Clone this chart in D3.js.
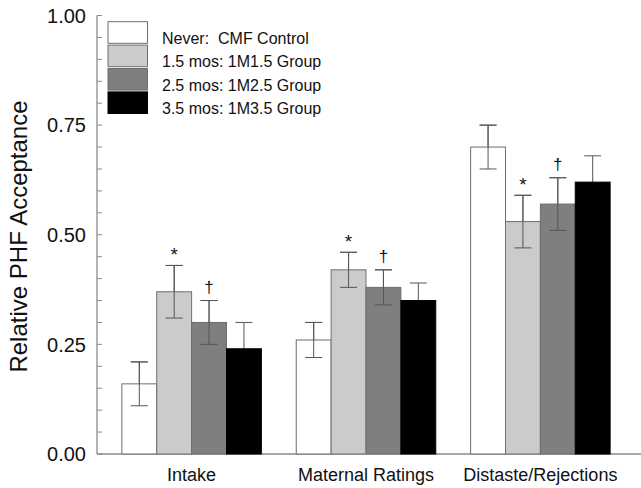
<!DOCTYPE html>
<html>
<head>
<meta charset="utf-8">
<script src="https://cdn.jsdelivr.net/npm/d3@7"></script>
<style>
body{margin:0;background:#fff;}
svg text{font-family:"Liberation Sans",Arial,sans-serif;white-space:pre;}
</style>
</head>
<body>
<div id="chart"></div>
<script>
var categories = ["Intake", "Maternal Ratings", "Distaste/Rejections"];
var groups = ["Never:  CMF Control", "1.5 mos: 1M1.5 Group", "2.5 mos: 1M2.5 Group", "3.5 mos: 1M3.5 Group"];
var fills = ["#ffffff", "#cbcbcb", "#7f7f7f", "#000000"];

// values per group, one entry per category
var means = [
	[0.16, 0.26, 0.70],
	[0.37, 0.42, 0.53],
	[0.30, 0.38, 0.57],
	[0.24, 0.35, 0.62]
];
var errs = [
	[0.05, 0.04, 0.05],
	[0.06, 0.04, 0.06],
	[0.05, 0.04, 0.06],
	[0.06, 0.04, 0.06]
];
// significance marks above bars: [group, category, symbol]
var marks = [
	[1, 0, "*"], [2, 0, "\u2020"],
	[1, 1, "*"], [2, 1, "\u2020"],
	[1, 2, "*"], [2, 2, "\u2020"]
];
var yTicks = [0, 0.25, 0.5, 0.75, 1.0];

var W = 641, H = 488;
var svg = d3.select("#chart").append("svg").attr("width", W).attr("height", H);

var axisCol = "#8a8a8a";

var y = d3.scaleLinear().domain([0, 1]).range([454, 15.5]);
var x0 = d3.scaleBand().domain(categories).range([87, 645]).paddingInner(0.2).paddingOuter(0.2);
var x1 = d3.scaleBand().domain(d3.range(groups.length)).range([0, x0.bandwidth()]);

//axes
var yAxisX = 97;
svg.append("line").attr("x1", yAxisX).attr("x2", yAxisX).attr("y1", y(1)).attr("y2", y(0))
	.attr("stroke", axisCol).attr("stroke-width", 1.3);
svg.append("line").attr("x1", yAxisX).attr("x2", W).attr("y1", y(0)).attr("y2", y(0))
	.attr("stroke", axisCol).attr("stroke-width", 1.3);

var minor = d3.range(0, 1.0001, 0.05);
svg.selectAll("line.ytick").data(minor).enter().append("line").classed("ytick", true)
	.attr("x1", yAxisX).attr("x2", yAxisX + 5)
	.attr("y1", function(d){ return y(d); }).attr("y2", function(d){ return y(d); })
	.attr("stroke", axisCol).attr("stroke-width", 1);

svg.selectAll("text.ylab").data(yTicks).enter().append("text").classed("ylab", true)
	.attr("x", 86).attr("y", function(d){ return y(d); }).attr("dy", "0.36em")
	.attr("text-anchor", "end").style("font-size", "20px").style("fill", "#111")
	.text(d3.format(".2f"));

svg.append("text").attr("transform", "translate(27,236.5) rotate(-90)")
	.attr("text-anchor", "middle").style("font-size", "24px").style("fill", "#111")
	.text("Relative PHF Acceptance");

svg.selectAll("text.xlab").data(categories).enter().append("text").classed("xlab", true)
	.attr("x", function(d){ return x0(d) + x0.bandwidth() / 2; }).attr("y", 481)
	.attr("text-anchor", "middle").style("font-size", "18px").style("fill", "#111")
	.text(function(d){ return d; });

//bars
var barData = [];
groups.forEach(function(g, gi){
	categories.forEach(function(c, ci){
		barData.push({g: gi, c: c, v: means[gi][ci], e: errs[gi][ci]});
	});
});

var bx = function(d){ return x0(d.c) + x1(d.g); };
var cx = function(d){ return bx(d) + x1.bandwidth() / 2; };

function errorBars(sel){
	var g = sel.enter().append("g");
	g.append("line").attr("x1", cx).attr("x2", cx)
		.attr("y1", function(d){ return y(d.v + d.e); }).attr("y2", function(d){ return y(d.v - d.e); })
		.attr("stroke", "#555").attr("stroke-width", 1);
	g.selectAll("line.cap").data(function(d){ return [d.v + d.e, d.v - d.e].map(function(v){ return {d: d, v: v}; }); })
		.enter().append("line").classed("cap", true)
		.attr("x1", function(o){ return cx(o.d) - 8.5; }).attr("x2", function(o){ return cx(o.d) + 8.5; })
		.attr("y1", function(o){ return y(o.v); }).attr("y2", function(o){ return y(o.v); })
		.attr("stroke", "#555").attr("stroke-width", 1);
}

// drawn under bars so the lower whisker of the black bars is hidden
errorBars(svg.append("g").selectAll("g").data(barData));

svg.append("g").selectAll("rect").data(barData).enter().append("rect")
	.attr("x", bx).attr("width", x1.bandwidth())
	.attr("y", function(d){ return y(d.v); }).attr("height", function(d){ return y(0) - y(d.v); })
	.attr("fill", function(d){ return fills[d.g]; })
	.attr("stroke", function(d){ return d.g == 3 ? "#000" : "#6e6e6e"; }).attr("stroke-width", 1);

errorBars(svg.append("g").selectAll("g").data(barData.filter(function(d){ return d.g != 3; })));

//significance marks
svg.selectAll("text.mark").data(marks).enter().append("text").classed("mark", true)
	.attr("x", function(m){ return x0(categories[m[1]]) + x1(m[0]) + x1.bandwidth() / 2; })
	.attr("y", function(m){ return y(means[m[0]][m[1]] + errs[m[0]][m[1]]) - (m[2] == "*" ? 4.5 : 8); })
	.attr("text-anchor", "middle").style("font-size", function(m){ return m[2] == "*" ? "19px" : "17px"; })
	.style("fill", "#111")
	.text(function(m){ return m[2]; });

//legend
var leg = svg.append("g").attr("transform", "translate(108,21.7)");
var li = leg.selectAll("g").data(groups).enter().append("g")
	.attr("transform", function(d, i){ return "translate(0," + (i * 23.4) + ")"; });
li.append("rect").attr("width", 39.5).attr("height", 21.6)
	.attr("fill", function(d, i){ return fills[i]; })
	.attr("stroke", function(d, i){ return i == 3 ? "#000" : "#6e6e6e"; });
li.append("text").attr("x", 54).attr("y", 22.3)
	.style("font-size", "16px").style("fill", "#111")
	.text(function(d){ return d; });
</script>
</body>
</html>
